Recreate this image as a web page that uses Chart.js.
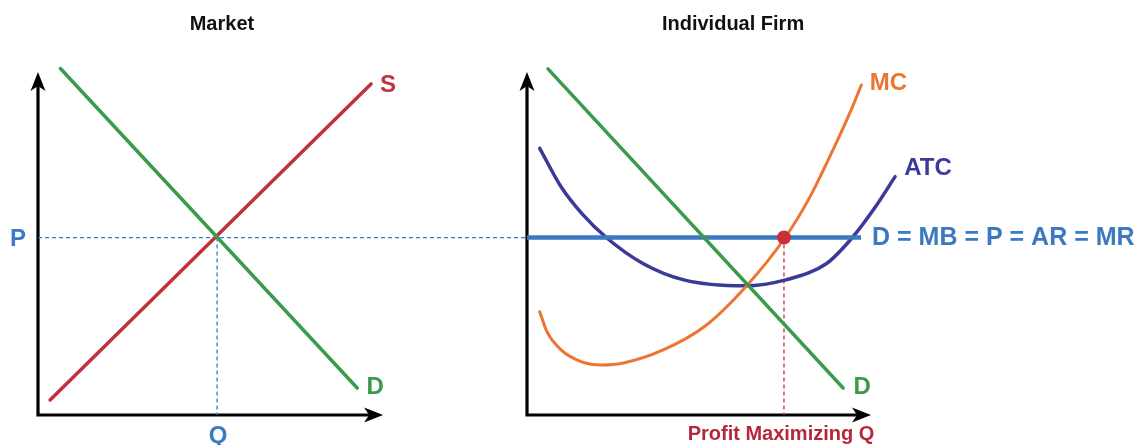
<!DOCTYPE html>
<html>
<head>
<meta charset="utf-8">
<script src="https://cdn.jsdelivr.net/npm/chart.js@4.4.0/dist/chart.umd.min.js"></script>
<style>
    body { margin: 0; background: #ffffff; }
    #wrap { position: relative; width: 1140px; height: 445px; overflow: hidden; }
    canvas { position: absolute; top: 0; }
    #marketChart { left: 0; }
    #firmChart { left: 500px; }
</style>
</head>
<body>
<div id="wrap">
    <canvas id="firmChart" width="640" height="445"></canvas>
    <canvas id="marketChart" width="527" height="445"></canvas>
</div>
<script>
// market panel (quantity on x, price on y, 0..10 units)
const marketDemand = [{ x: 0.65, y: 9.9 }, { x: 9.25, y: 0.77 }];
const marketSupply = [{ x: 0.35, y: 0.43 }, { x: 9.65, y: 9.46 }];
const marketQ = 5.19;
const marketP = 5.07;

// firm panel
const firmDemand = [{ x: 0.61, y: 9.89 }, { x: 9.19, y: 0.77 }];
const firmPrice = 5.07;
const firmPriceEnd = 9.71;
const profitQ = 7.47;
const mcX = [0.37, 0.58, 0.99, 1.59, 2.18, 2.77, 3.96, 5.15, 6.40, 7.49, 8.23, 8.94, 9.42, 9.72];
const mcY = [2.95, 2.38, 1.86, 1.52, 1.43, 1.48, 1.86, 2.52, 3.71, 5.05, 6.24, 7.67, 8.71, 9.43];
const atcX = [0.37, 0.99, 1.59, 2.33, 3.37, 4.56, 6.33, 7.52, 8.71, 9.44, 10.13, 10.70];
const atcY = [7.62, 6.52, 5.76, 5.05, 4.33, 3.86, 3.69, 3.86, 4.33, 5.05, 5.95, 6.81];

const titles = ["Market", "Individual Firm"];
const priceLabel = "D = MB = P = AR = MR";
const profitLabel = "Profit Maximizing Q";

const FONT = '"Liberation Sans", Arial, Helvetica, sans-serif';
const GREEN = "#3c9a4b";
const RED = "#c0313f";
const BLUE = "#3b79c1";
const ORANGE = "#ee7432";
const NAVY = "#3a3a98";

const toPoints = (xs, ys) => xs.map((x, i) => ({ x: x, y: ys[i] }));

function arrowHead(ctx, x, y, dir) {
    ctx.save();
    ctx.translate(x, y);
    if (dir === "right") ctx.rotate(Math.PI / 2);
    ctx.beginPath();
    ctx.moveTo(0, 0);
    ctx.lineTo(7.5, 19);
    ctx.lineTo(0, 14);
    ctx.lineTo(-7.5, 19);
    ctx.closePath();
    ctx.fill();
    ctx.restore();
}

// draws the black arrow axes, the title and the curve labels
const econPlugin = {
    id: "econ",
    beforeDatasetsDraw(chart, args, opts) {
        const ctx = chart.ctx;
        const xs = chart.scales.x;
        const ys = chart.scales.y;
        const x0 = xs.getPixelForValue(0);
        const y0 = ys.getPixelForValue(0);
        const yTop = ys.getPixelForValue(opts.yTop);
        const xEnd = xs.getPixelForValue(opts.xEnd);
        ctx.save();
        ctx.strokeStyle = "#000";
        ctx.fillStyle = "#000";
        ctx.lineWidth = 3.2;
        ctx.beginPath();
        ctx.moveTo(x0, yTop + 10);
        ctx.lineTo(x0, y0);
        ctx.lineTo(xEnd - 10, y0);
        ctx.stroke();
        arrowHead(ctx, x0, yTop, "up");
        arrowHead(ctx, xEnd, y0, "right");
        ctx.restore();
    },
    afterDatasetsDraw(chart, args, opts) {
        const ctx = chart.ctx;
        const xs = chart.scales.x;
        const ys = chart.scales.y;
        ctx.save();
        ctx.textBaseline = "middle";
        ctx.fillStyle = "#111";
        ctx.textAlign = "center";
        ctx.font = "bold 20px " + FONT;
        ctx.fillText(opts.title, xs.getPixelForValue(opts.titleX), 24);
        opts.labels.forEach((l) => {
            ctx.font = "bold " + l.size + "px " + FONT;
            ctx.fillStyle = l.color;
            ctx.textAlign = l.align || "center";
            ctx.fillText(l.text, xs.getPixelForValue(l.x) + l.dx, ys.getPixelForValue(l.y) + l.dy);
        });
        ctx.restore();
    },
};

function baseOptions(padding, xMax, econ) {
    return {
        responsive: false,
        animation: false,
        events: [],
        layout: { padding: padding },
        scales: {
            x: { type: "linear", min: 0, max: xMax, display: false },
            y: { type: "linear", min: 0, max: 10, display: false },
        },
        plugins: {
            legend: { display: false },
            tooltip: { enabled: false },
            econ: econ,
        },
    };
}

function lineSet(data, color, width, extra) {
    return Object.assign({
        data: data,
        borderColor: color,
        borderWidth: width,
        pointRadius: 0,
        fill: false,
        clip: false,
        showLine: true,
        borderCapStyle: "round",
    }, extra || {});
}

new Chart(document.getElementById("marketChart"), {
    type: "scatter",
    data: {
        datasets: [
            lineSet(marketDemand, GREEN, 3.5),
            lineSet(marketSupply, RED, 3.5),
            lineSet([{ x: 0, y: marketP }, { x: 14.2, y: marketP }], BLUE, 1.3, { borderDash: [4, 3], borderCapStyle: "butt" }),
            lineSet([{ x: marketQ, y: marketP }, { x: marketQ, y: 0 }], BLUE, 1.3, { borderDash: [4, 3], borderCapStyle: "butt" }),
        ],
    },
    // 34.5 px per unit: 0..14.2 spans the canvas from the axis to the right edge
    options: baseOptions({ left: 38, right: 0, top: 65, bottom: 30 }, 14.17, {
        yTop: 9.8,
        xEnd: 10,
        title: titles[0],
        titleX: 5.33,
        labels: [
            { text: "S", x: marketSupply[1].x, y: marketSupply[1].y, dx: 17, dy: 1, color: RED, size: 24 },
            { text: "D", x: marketDemand[1].x, y: marketDemand[1].y, dx: 18, dy: -1, color: GREEN, size: 24 },
            { text: "P", x: 0, y: marketP, dx: -20, dy: 2, color: BLUE, size: 24 },
            { text: "Q", x: marketQ, y: 0, dx: 1, dy: 21, color: BLUE, size: 24 },
        ],
    }),
    plugins: [econPlugin],
});

new Chart(document.getElementById("firmChart"), {
    type: "scatter",
    data: {
        datasets: [
            lineSet([{ x: profitQ, y: firmPrice }], RED, 0, { pointRadius: 7, pointBackgroundColor: "#c8303a", pointBorderWidth: 0, showLine: false }),
            lineSet(firmDemand, GREEN, 3.5),
            lineSet([{ x: 0, y: firmPrice }, { x: firmPriceEnd, y: firmPrice }], BLUE, 4.5, { borderCapStyle: "butt" }),
            lineSet(toPoints(mcX, mcY), ORANGE, 3, { cubicInterpolationMode: "monotone" }),
            lineSet(toPoints(atcX, atcY), NAVY, 3.5, { cubicInterpolationMode: "monotone" }),
            lineSet([{ x: profitQ, y: firmPrice }, { x: profitQ, y: 0 }], RED, 1.3, { borderDash: [4, 3], borderCapStyle: "butt" }),
        ],
    },
    // 34.4 px per unit
    options: baseOptions({ left: 27, right: 234.6, top: 65, bottom: 30 }, 11, {
        yTop: 9.8,
        xEnd: 10,
        title: titles[1],
        titleX: 5.99,
        labels: [
            { text: "MC", x: mcX[mcX.length - 1], y: mcY[mcY.length - 1], dx: 27, dy: -2, color: ORANGE, size: 24 },
            { text: "ATC", x: atcX[atcX.length - 1], y: atcY[atcY.length - 1], dx: 33, dy: -8, color: NAVY, size: 24 },
            { text: "D", x: firmDemand[1].x, y: firmDemand[1].y, dx: 19, dy: -1, color: GREEN, size: 24 },
            { text: priceLabel, x: firmPriceEnd, y: firmPrice, dx: 11, dy: 1, color: BLUE, size: 25, align: "left" },
            { text: profitLabel, x: profitQ, y: 0, dx: -3, dy: 19, color: "#b5283a", size: 20, align: "center" },
        ],
    }),
    plugins: [econPlugin],
});
</script>
</body>
</html>
